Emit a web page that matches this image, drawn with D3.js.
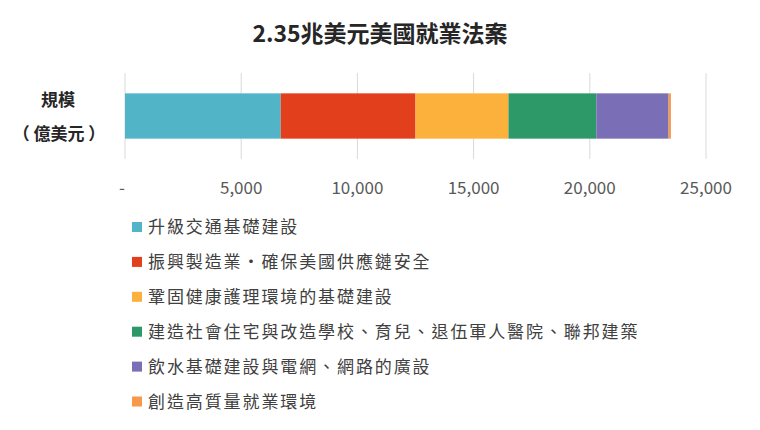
<!DOCTYPE html>
<html>
<head>
<meta charset="utf-8">
<script src="https://cdn.jsdelivr.net/npm/d3@7"></script>
<style>
  body { margin: 0; background: #fff; }
  text { font-family: "Noto Sans CJK TC", "Noto Sans", sans-serif; }
</style>
</head>
<body>
<svg id="chart" width="760" height="430"></svg>
<script>
// values in 億美元
var categories = ["升級交通基礎建設", "振興製造業・確保美國供應鏈安全", "鞏固健康護理環境的基礎建設",
    "建造社會住宅與改造學校、育兒、退伍軍人醫院、聯邦建築", "飲水基礎建設與電網、網路的廣設", "創造高質量就業環境"];
var values = [6700, 5800, 4000, 3780, 3110, 100];
var colors = ["#52b5c7", "#e2401d", "#fbb13b", "#2e9968", "#7a6eb6", "#f7994a"];
var ticks = [0, 5000, 10000, 15000, 20000, 25000];
var tickLabels = ["-", "5,000", "10,000", "15,000", "20,000", "25,000"];

var svg = d3.select("#chart");

var x = d3.scaleLinear().domain([0, 25000]).range([125, 706]);
var y = d3.scaleBand().domain(["規模"]).range([73, 159]).padding(0.31);

// title
svg.append("text")
    .attr("x", 380)
    .attr("y", 42)
    .attr("text-anchor", "middle")
    .attr("font-size", "23px")
    .attr("font-weight", "bold")
    .attr("fill", "#262626")
    .text("2.35兆美元美國就業法案");

// gridlines
svg.append("g").selectAll("line")
    .data(ticks)
    .enter().append("line")
    .attr("x1", function(d) { return x(d); })
    .attr("x2", function(d) { return x(d); })
    .attr("y1", 73)
    .attr("y2", 159)
    .attr("stroke", "#d9d9d9")
    .attr("stroke-width", 1);

// stacked segments
var start = 0;
var segs = values.map(function(v, i) {
    var s = { x0: start, x1: start + v, color: colors[i] };
    start += v;
    return s;
});

svg.append("g").selectAll("rect")
    .data(segs)
    .enter().append("rect")
    .attr("x", function(d) { return x(d.x0); })
    .attr("y", y("規模"))
    .attr("width", function(d) { return x(d.x1) - x(d.x0); })
    .attr("height", y.bandwidth())
    .attr("fill", function(d) { return d.color; });

// x tick labels
svg.append("g").selectAll("text")
    .data(ticks)
    .enter().append("text")
    .attr("x", function(d, i) { return i == 0 ? x(d) - 3 : x(d); })
    .attr("y", 194)
    .attr("text-anchor", "middle")
    .attr("font-size", "17px")
    .attr("fill", "#595959")
    .text(function(d, i) { return tickLabels[i]; });

// category label
svg.append("text")
    .attr("x", 58)
    .attr("y", 106)
    .attr("text-anchor", "middle")
    .attr("font-size", "17px")
    .attr("font-weight", "bold")
    .attr("fill", "#262626")
    .text("規模");

svg.append("text")
    .attr("x", 59)
    .attr("y", 140)
    .attr("text-anchor", "middle")
    .attr("font-size", "17px")
    .attr("font-weight", "bold")
    .attr("fill", "#262626")
    .text("（ 億美元 ）");

// legend
var legend = svg.append("g").selectAll("g")
    .data(categories)
    .enter().append("g")
    .attr("transform", function(d, i) { return "translate(132," + (227 + i * 34.9) + ")"; });

legend.append("rect")
    .attr("x", 0)
    .attr("y", -5)
    .attr("width", 10)
    .attr("height", 10)
    .attr("fill", function(d, i) { return colors[i]; });

legend.append("text")
    .attr("x", 16)
    .attr("y", 6)
    .attr("font-size", "17px")
    .attr("letter-spacing", "1.9px")
    .attr("fill", "#404040")
    .text(function(d) { return d; });
</script>
</body>
</html>
